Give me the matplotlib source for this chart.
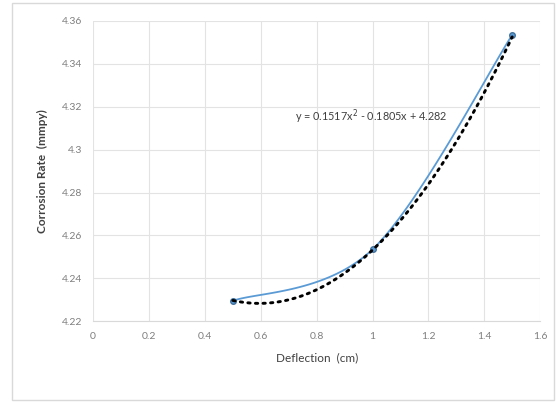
import numpy as np
import matplotlib.pyplot as plt
from matplotlib.patches import Rectangle

plt.rcParams['font.family'] = ['Lato', 'DejaVu Sans']

# measured points
deflection = [0.5, 1.0, 1.5]
corrosion = [4.2295, 4.2535, 4.3535]
# polynomial trendline coefficients (order 2)
coef = [0.1517, -0.1805, 4.282]
eq_text = "y = 0.1517x$^{2}$ - 0.1805x + 4.282"


def smooth(x, y, n=40):
    # Excel-like smoothed line (Catmull-Rom style bezier)
    p = np.column_stack([x, y])
    p = np.vstack([p[0], p, p[-1]])
    out = []
    t = np.linspace(0, 1, n)[:, None]
    for i in range(1, len(p) - 2):
        b0, b3 = p[i], p[i + 1]
        b1 = b0 + (p[i + 1] - p[i - 1]) / 6
        b2 = b3 - (p[i + 2] - p[i]) / 6
        seg = ((1 - t) ** 3) * b0 + 3 * ((1 - t) ** 2) * t * b1 + 3 * (1 - t) * t ** 2 * b2 + t ** 3 * b3
        out.append(seg)
    out = np.vstack(out)
    return out[:, 0], out[:, 1]


fig = plt.figure(figsize=(5.58, 4.03), dpi=100)
ax = fig.add_axes([0.167, 0.203, 0.801, 0.745])

# chart border like Excel
fig.patches.append(Rectangle((0.022, 0.008), 0.97, 0.985, transform=fig.transFigure,
                             fill=False, edgecolor='#d9d9d9', linewidth=1))

sx, sy = smooth(deflection, corrosion)
ax.plot(sx, sy, color='#5b9bd5', linewidth=1.3, zorder=2)
ax.plot(deflection, corrosion, linestyle='none', marker='o', markersize=4,
        markerfacecolor='#5b9bd5', markeredgecolor='#41719c', zorder=2)

xs = np.linspace(0.5, 1.5, 100)
ax.plot(xs, np.polyval(coef, xs), color='black', linestyle=(0, (0.8, 1.8)),
        linewidth=2.1, dash_capstyle='round', zorder=3)

ax.text(0.995, 4.3155, eq_text, fontsize=7.8, color='#404040', ha='center', va='center')

ax.set_xlim(0, 1.6)
ax.set_ylim(4.22, 4.36)
ax.set_xticks(np.arange(0, 1.61, 0.2))
ax.set_xticklabels(['0', '0.2', '0.4', '0.6', '0.8', '1', '1.2', '1.4', '1.6'])
ax.set_yticks(np.arange(4.22, 4.361, 0.02))
ax.set_yticklabels(['4.22', '4.24', '4.26', '4.28', '4.3', '4.32', '4.34', '4.36'])
ax.tick_params(length=0, labelsize=7.5, colors='#7f7f7f', pad=8)
ax.grid(True, color='#e3e3e3', linewidth=0.8)
ax.set_axisbelow(True)
for s in ax.spines.values():
    s.set_visible(False)
ax.spines['bottom'].set_visible(True)
ax.spines['bottom'].set_color('#d9d9d9')

ax.set_xlabel('Deflection  (cm)', fontsize=8.5, color='#404040', labelpad=8)
ax.set_ylabel('Corrosion Rate  (mmpy)', fontsize=8.5, color='#404040',
              fontweight='bold', labelpad=10)

fig.savefig('out.png', dpi=100)
